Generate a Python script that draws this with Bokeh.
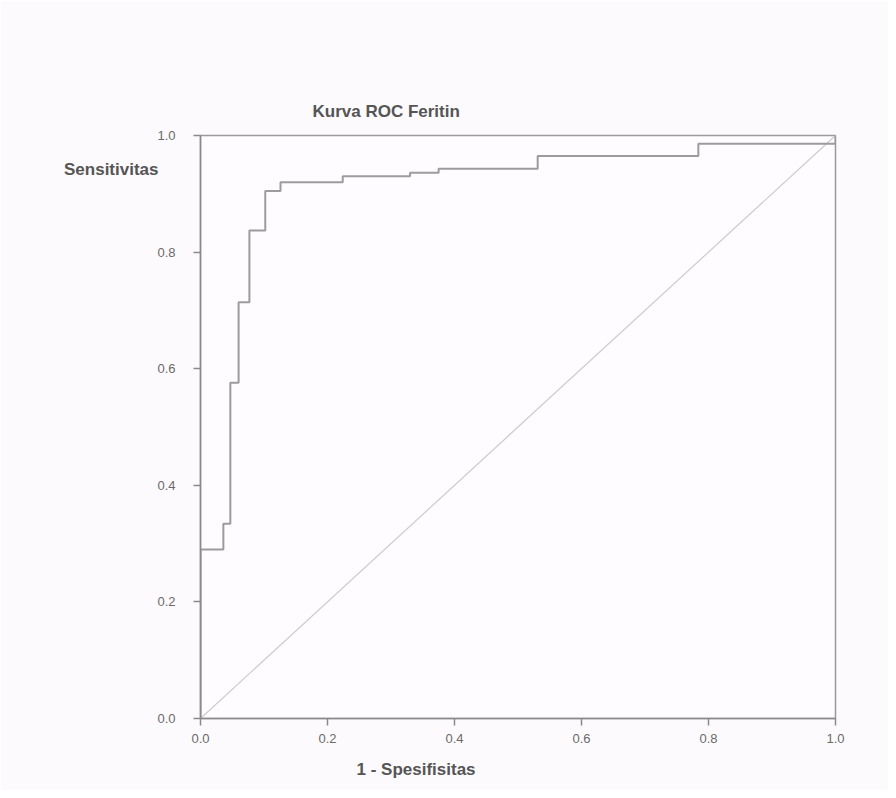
from bokeh.plotting import figure
from bokeh.models import Range1d, FixedTicker, Title, LinearAxis
from bokeh.embed import file_html
from bokeh.resources import INLINE

# ROC curve corner points (1 - specificity, sensitivity)
fpr = [0.0, 0.0, 0.036, 0.047, 0.06, 0.077, 0.102, 0.126, 0.224, 0.33, 0.375, 0.531, 0.784, 1.0]
tpr = [0.0, 0.29, 0.334, 0.576, 0.714, 0.837, 0.905, 0.92, 0.93, 0.936, 0.943, 0.965, 0.986, 1.0]
ref_x = [0.0, 1.0]
ref_y = [0.0, 1.0]
tick_values = [0.0, 0.2, 0.4, 0.6, 0.8, 1.0]
tick_labels = {0.0: "0.0", 0.2: "0.2", 0.4: "0.4", 0.6: "0.6", 0.8: "0.8", 1.0: "1.0"}
title_text = "Kurva ROC Feritin"
y_label_text = "Sensitivitas"
x_label_text = "1 - Spesifisitas"

FONT = "Liberation Sans"
TEXT_COLOR = "#555555"

p = figure(width=888, height=790, output_backend="svg", toolbar_location=None,
           x_range=Range1d(0, 1), y_range=Range1d(0, 1),
           min_border_left=200, min_border_right=53, min_border_top=135, min_border_bottom=72)
p.background_fill_color = "#fefcfe"
p.border_fill_color = "#fcfafc"
p.outline_line_color = "#9a9a9a"
p.outline_line_width = 1.5
p.grid.visible = False

for ax in (p.xaxis[0], p.yaxis[0]):
    ax.ticker = FixedTicker(ticks=tick_values)
    ax.major_label_overrides = tick_labels
    ax.minor_tick_line_color = None
    ax.major_tick_in = 0
    ax.major_tick_out = 7
    ax.axis_line_color = "#8a8a8a"
    ax.axis_line_width = 1.5
    ax.major_tick_line_color = "#8a8a8a"
    ax.major_tick_line_width = 1.5
    ax.major_label_text_font = FONT
    ax.major_label_text_font_size = "13px"
    ax.major_label_text_color = "#6a6a6a"
p.yaxis[0].major_label_standoff = 18
p.xaxis[0].major_label_standoff = 8

# horizontal "Sensitivitas" label near the top of the y axis (label-only axis);
# leading blank lines push the visible text down below the top of the axis
ylab_axis = LinearAxis(ticker=FixedTicker(ticks=[]),
                       axis_line_color=None, major_tick_line_color=None,
                       minor_tick_line_color=None, major_label_text_font_size="0px",
                       axis_label="\n\n\n" + y_label_text, axis_label_orientation="horizontal",
                       axis_label_standoff=-4, axis_label_text_font=FONT,
                       axis_label_text_font_size="17px", axis_label_text_font_style="bold",
                       axis_label_text_color=TEXT_COLOR)
try:
    ylab_axis.axis_label_align = "end"
except Exception:
    pass
p.add_layout(ylab_axis, "left")

# diagonal reference line
p.line(ref_x, ref_y, line_color="#cccccc", line_width=1.2)
# ROC curve
p.step(fpr, tpr, mode="after", line_color="#9c9c9c", line_width=2)

p.add_layout(Title(text=title_text, align="left", offset=112, text_font=FONT,
                   text_font_size="17px", text_font_style="bold", text_color=TEXT_COLOR,
                   standoff=30), "above")
p.add_layout(Title(text=x_label_text, align="left", offset=156, text_font=FONT,
                   text_font_size="17px", text_font_style="bold", text_color=TEXT_COLOR,
                   standoff=24), "below")

open("out.html", "w").write(file_html(p, INLINE))
